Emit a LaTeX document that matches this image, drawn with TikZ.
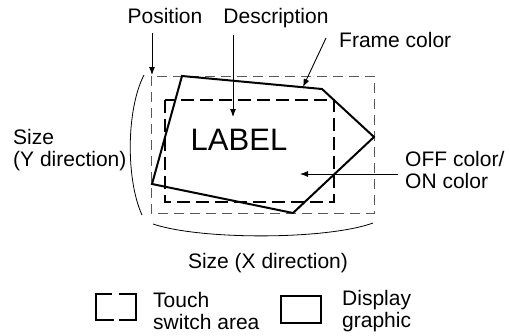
\documentclass[tikz,border=0pt]{standalone}
\usepackage{fontspec}
\setmainfont{Liberation Sans}
\usetikzlibrary{arrows.meta}
\tikzset{
  lbl/.style={font=\fontsize{21}{22}\selectfont, align=left, inner sep=0pt},
  pointer/.style={-{Latex[length=8pt,width=6pt]}, line width=0.9pt},
  outerarea/.style={black!65, line width=1pt, dash pattern=on 10pt off 6pt},
  toucharea/.style={line width=2.4pt, dash pattern=on 13pt off 6pt},
  framegraphic/.style={line width=2pt},
}
\begin{document}
\begin{tikzpicture}[x=1pt,y=-1pt]
      \useasboundingbox (0,0) rectangle (510,335);
      % areas and graphic
      \draw[outerarea] (151,76) rectangle (374,213);
      \draw[framegraphic] (182,76) -- (322,89) -- (374,137) -- (293,213) -- (152,184) -- cycle;
      \draw[toucharea] (165,100) rectangle (334,202);
      \node[lbl, font=\fontsize{31}{32}\selectfont, anchor=base] (label) at (239,150) {LABEL};
      % labels
      \node[lbl, anchor=base] (pos) at (165,23) {Position};
      \node[lbl, anchor=base] (desc) at (276,23) {Description};
      \node[lbl, anchor=base west] (frame) at (339,47) {Frame color};
      \node[lbl, anchor=west] (offon) at (405,170) {OFF color/\\ON color};
      \node[lbl, anchor=west] (sizey) at (13,150) {Size\\(Y direction)};
      \node[lbl, anchor=base] (sizex) at (268,268) {Size (X direction)};
      % pointers
      \coordinate (posTip) at (152,75);
      \coordinate (descTip) at (233,117);
      \coordinate (frameTip) at (303,87);
      \coordinate (offTip) at (300,174);
      \draw[pointer] (posTip |- 0,33) -- (posTip);
      \draw[pointer] (descTip |- 0,35) -- (descTip);
      \draw[pointer] (326,38) -- (frameTip);
      \draw[pointer] (offon.west |- offTip) ++(-7,0) -- (offTip);
      % size arcs
      \draw[line width=0.8pt] (144,75) .. controls (126,110) and (126,180) .. (142,215);
      \draw[line width=0.8pt] (153,224) .. controls (200,240) and (326,240) .. (373,223);
      % legend
      \draw[line width=1.8pt] (112,294) -- (96,294) -- (96,320) -- (114,320);
      \draw[line width=1.8pt] (119,294) -- (136,294) -- (136,320) -- (119,320);
      \node[lbl, anchor=west] (touch) at (153,311) {Touch\\switch area};
      \draw[line width=1.6pt] (281,296) rectangle (321,323);
      \node[lbl, anchor=west] (disp) at (342,311) {Display\\graphic};
    \end{tikzpicture}
\end{document}
